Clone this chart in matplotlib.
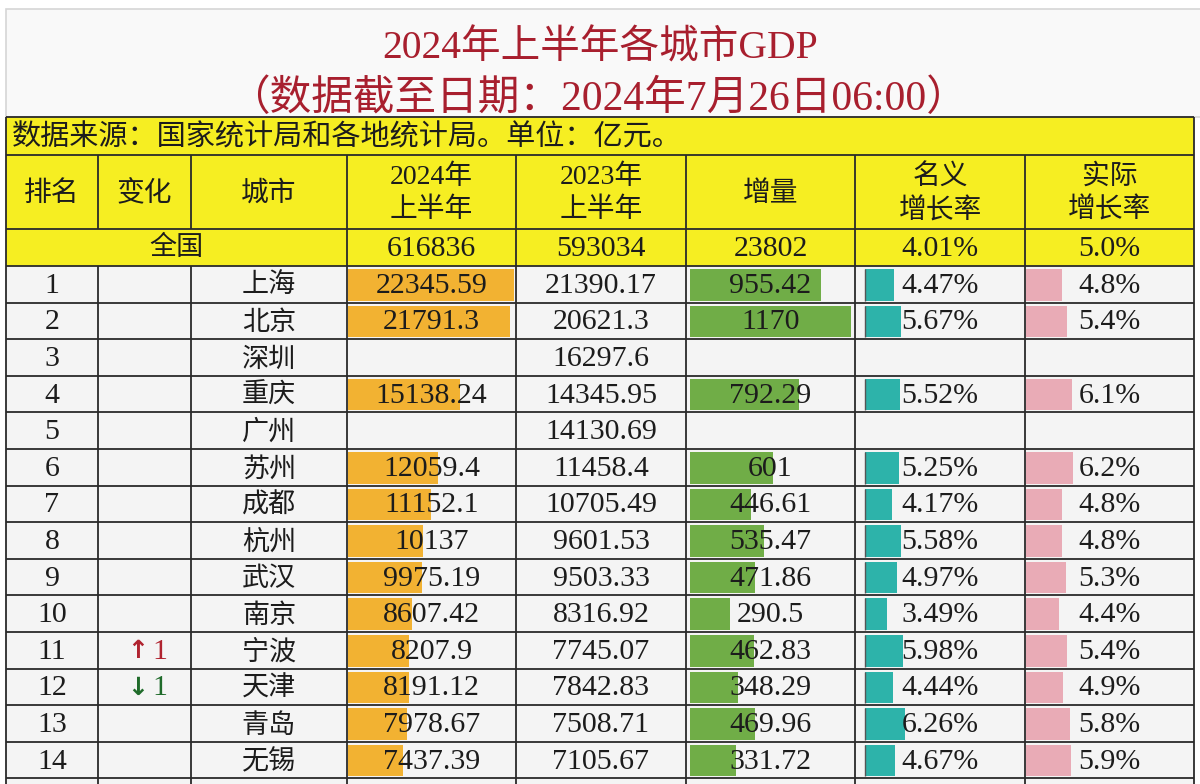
import numpy as np
import matplotlib
matplotlib.use("Agg")
from matplotlib import pyplot as plt

# ---- data ----
ranks = list(range(1, 15))
cities = ["上海", "北京", "深圳", "重庆", "广州", "苏州", "成都",
          "杭州", "武汉", "南京", "宁波", "天津", "青岛", "无锡"]
changes = ["", "", "", "", "", "", "", "", "", "", "↑1", "↓1", "", ""]
gdp_2024 = ["22345.59", "21791.3", "", "15138.24", "", "12059.4", "11152.1",
            "10137", "9975.19", "8607.42", "8207.9", "8191.12", "7978.67", "7437.39"]
gdp_2023 = ["21390.17", "20621.3", "16297.6", "14345.95", "14130.69", "11458.4", "10705.49",
            "9601.53", "9503.33", "8316.92", "7745.07", "7842.83", "7508.71", "7105.67"]
increase = ["955.42", "1170", "", "792.29", "", "601", "446.61",
            "535.47", "471.86", "290.5", "462.83", "348.29", "469.96", "331.72"]
nominal = ["4.47%", "5.67%", "", "5.52%", "", "5.25%", "4.17%",
           "5.58%", "4.97%", "3.49%", "5.98%", "4.44%", "6.26%", "4.67%"]
real = ["4.8%", "5.4%", "", "6.1%", "", "6.2%", "4.8%",
        "4.8%", "5.3%", "4.4%", "5.4%", "4.9%", "5.8%", "5.9%"]
national = ["616836", "593034", "23802", "4.01%", "5.0%"]

headers = ["排名", "变化", "城市", "2024年\n上半年", "2023年\n上半年", "增量", "名义\n增长率", "实际\n增长率"]
title1 = "2024年上半年各城市GDP"
title2 = "（数据截至日期：2024年7月26日06:00）"
source = "数据来源：国家统计局和各地统计局。单位：亿元。"

# ---- layout (pixels) ----
W, H = 1200, 784
col_edges = [6, 98, 191, 347, 516, 686, 855, 1025, 1194]
banner_top, header_top, nat_top, rows_top = 117, 155, 229, 266
row_h = 36.6

YELLOW = "#F6EE22"
CELL = "#F4F4F4"
LINE = "#2a2a2a"
TXT = "#1c1c1c"
NUM_FONT = ["Liberation Serif", "Noto Sans CJK SC"]
CJK_FONT = ["Noto Sans CJK SC", "DejaVu Sans"]
NUM_SIZE = 21.5
CJK_SIZE = 19.5


def to_num(vals):
    return np.array([float(v.rstrip("%")) if v else np.nan for v in vals])


fig = plt.figure(figsize=(W / 100, H / 100), dpi=100)
fig.patch.set_facecolor("white")
ax = fig.add_axes([0, 0, 1, 1])
ax.set_xlim(0, W)
ax.set_ylim(H, 0)
ax.axis("off")

# page frame + title area
ax.add_patch(plt.Rectangle((6, 9), W, banner_top - 9, facecolor="#F9F9F9", edgecolor="#D6D6D6", lw=1.2))
ax.text(600, 49, title1, ha="center", va="center", fontsize=28.5, color="#A81F2E", family=NUM_FONT)
ax.text(598, 99, title2, ha="center", va="center", fontsize=30, color="#A81F2E", family=NUM_FONT)

# yellow areas
ax.add_patch(plt.Rectangle((col_edges[0], banner_top), col_edges[-1] - col_edges[0], rows_top - banner_top,
                           facecolor=YELLOW, edgecolor="none"))
n = len(cities)
body_bottom = H + 5
ax.add_patch(plt.Rectangle((col_edges[0], rows_top), col_edges[-1] - col_edges[0], body_bottom - rows_top,
                           facecolor=CELL, edgecolor="none"))

ax.text(12, 137, source, ha="left", va="center", fontsize=21, color=TXT, family=CJK_FONT)

# header text
for i, h in enumerate(headers):
    cx = (col_edges[i] + col_edges[i + 1]) / 2
    ax.text(cx, (header_top + nat_top) / 2 + 2, h, ha="center", va="center", fontsize=20,
            color=TXT, family=NUM_FONT, linespacing=1.4)

# national row
nat_y = (nat_top + rows_top) / 2
ax.text((col_edges[0] + col_edges[3]) / 2, nat_y, "全国", ha="center", va="center",
        fontsize=CJK_SIZE, color=TXT, family=CJK_FONT)
for j, v in enumerate(national):
    cx = (col_edges[3 + j] + col_edges[4 + j]) / 2
    ax.text(cx, nat_y + 1, v, ha="center", va="center", fontsize=NUM_SIZE, color=TXT, family=NUM_FONT)

# data bars
yc = rows_top + row_h * (np.arange(n) + 0.5)
bar_h = row_h - 5
bar_specs = [
    (gdp_2024, 3, 1, 166, "#F2B232"),
    (increase, 5, 4, 161, "#70AD47"),
    (nominal, 6, 10, 40, "#2DB3AA"),
    (real, 7, 1, 47, "#E9ABB6"),
]
for vals, ci, pad, maxw, color in bar_specs:
    num = to_num(vals)
    widths = np.nan_to_num(num / np.nanmax(num) * maxw)
    ax.barh(yc + 0.5, widths, left=col_edges[ci] + pad, height=bar_h, color=color, edgecolor="none", zorder=2)
    if ci == 6:
        has = ~np.isnan(num)
        ax.vlines(np.full(has.sum(), col_edges[ci] + pad), yc[has] - bar_h / 2 + 0.5,
                  yc[has] + bar_h / 2 + 0.5, color="#555555", lw=1.0, zorder=3)

# data text
cols_text = [[str(r) for r in ranks], None, cities, gdp_2024, gdp_2023, increase, nominal, real]
for ci, vals in enumerate(cols_text):
    if vals is None:
        continue
    cx = (col_edges[ci] + col_edges[ci + 1]) / 2
    fam = CJK_FONT if ci == 2 else NUM_FONT
    size = CJK_SIZE if ci == 2 else NUM_SIZE
    for k, v in enumerate(vals):
        if v:
            ax.text(cx, yc[k] + 1.5, v, ha="center", va="center", fontsize=size, color=TXT,
                    family=fam, zorder=4)

# rank changes
for k, c in enumerate(changes):
    if not c:
        continue
    color = "#B0232F" if c[0] == "↑" else "#1F6B2A"
    ax.text(138, yc[k] + 1, c[0], ha="center", va="center", fontsize=18, color=color,
            family=["DejaVu Sans"], weight="bold", zorder=4)
    ax.text(160, yc[k] + 1.5, c[1:], ha="center", va="center", fontsize=NUM_SIZE, color=color,
            family=NUM_FONT, zorder=4)

# grid lines
row_lines = [banner_top, header_top, nat_top] + list(rows_top + row_h * np.arange(n + 1))
ax.hlines(row_lines, col_edges[0], col_edges[-1], color=LINE, lw=1.3, zorder=5)
for k, x in enumerate(col_edges):
    if k in (0, len(col_edges) - 1):
        top = banner_top
    else:
        top = header_top
    if k in (1, 2):
        ax.vlines(x, header_top, nat_top, color=LINE, lw=1.3, zorder=5)
        ax.vlines(x, rows_top, body_bottom, color=LINE, lw=1.3, zorder=5)
    else:
        ax.vlines(x, top, body_bottom, color=LINE, lw=1.3, zorder=5)

fig.savefig("out.png", dpi=100, facecolor=fig.get_facecolor())
